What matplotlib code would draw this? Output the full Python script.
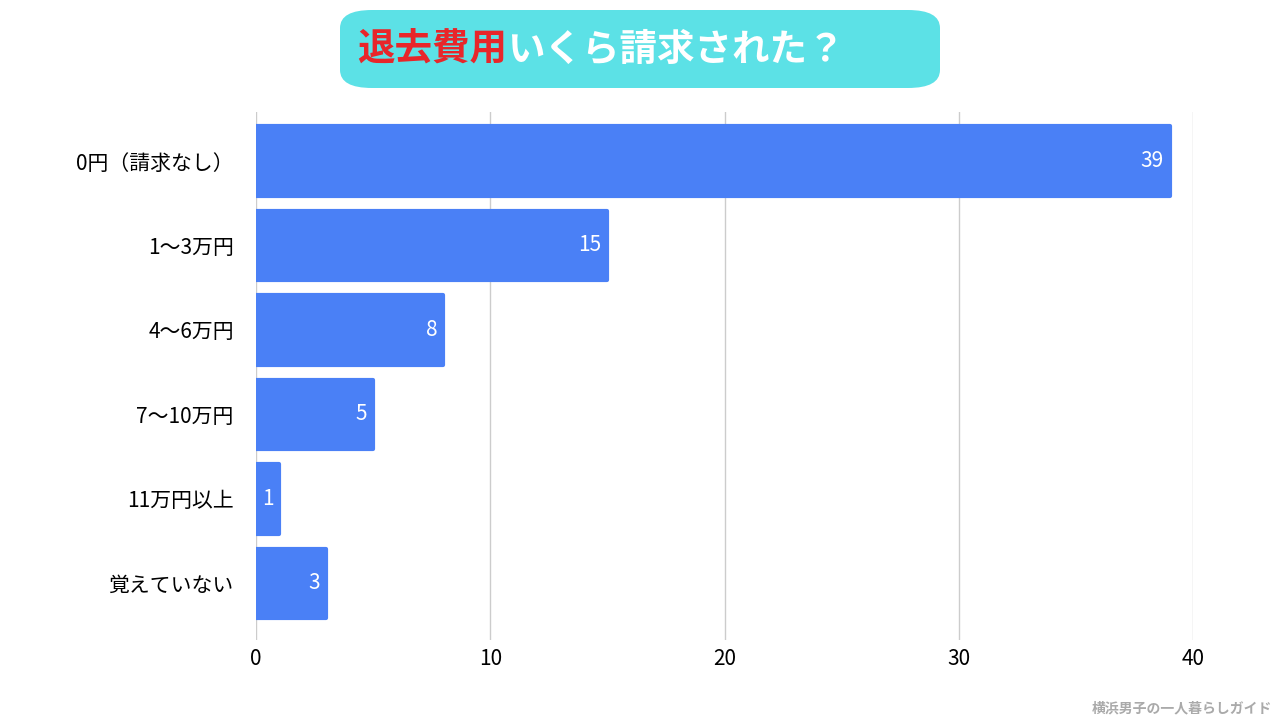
import matplotlib
matplotlib.use("Agg")
import matplotlib.pyplot as plt
from matplotlib.patches import FancyBboxPatch

plt.rcParams['font.family'] = ['Noto Sans CJK JP', 'DejaVu Sans']

categories = ["0円（請求なし）", "1〜3万円", "4〜6万円", "7〜10万円", "11万円以上", "覚えていない"]
values = [39, 15, 8, 5, 1, 3]
xticks = [0, 10, 20, 30, 40]

fig = plt.figure(figsize=(12.8, 7.2), dpi=100)
ax = fig.add_axes([256/1280, (720-640)/720, (1193-256)/1280, (640-112)/720])
bar_color = "#4a80f6"
y = list(range(len(categories)))
bars = ax.barh(y, values, height=0.82, color=bar_color, edgecolor=bar_color,
               linewidth=3, joinstyle='round', zorder=3)
ax.set_ylim(len(categories) - 0.5 + 0.17, -0.5 - 0.08)
ax.set_xlim(0, 40)
ax.set_yticks(y)
ax.set_yticklabels(categories, fontsize=15)
ax.set_xticks(xticks)
ax.set_xticklabels([str(t) for t in xticks], fontsize=15)
ax.tick_params(length=0, pad=16)
ax.tick_params(axis='x', pad=6)
ax.grid(axis='x', color="#cccccc", linewidth=1, zorder=0)
for s in ax.spines.values():
    s.set_visible(False)
for yi, v in zip(y, values):
    ax.text(v - 0.25, yi, str(v), color="white", fontsize=15, ha='right', va='center', zorder=4)

# Title box
box = FancyBboxPatch((340/1280, (720-88)/720), (940-340)/1280, 78/720,
                     boxstyle="round,pad=0,rounding_size=0.025", transform=fig.transFigure,
                     facecolor="#5ce1e6", edgecolor="none")
fig.patches.append(box)
t1 = fig.text(357/1280, 49/720 * -1 + 1, "退去費用", color="#e8262a", fontsize=27,
              fontweight='bold', ha='left', va='center')
fig.canvas.draw()
bb = t1.get_window_extent()
fig.text(bb.x1/1280, 1 - 49/720, "いくら請求された？", color="white", fontsize=27,
         fontweight='bold', ha='left', va='center')

fig.text(1272/1280, 1 - 708/720, "横浜男子の一人暮らしガイド", color="#aaaaaa", fontsize=10,
         fontweight='bold', ha='right', va='center')

fig.savefig("out.png", dpi=100)
